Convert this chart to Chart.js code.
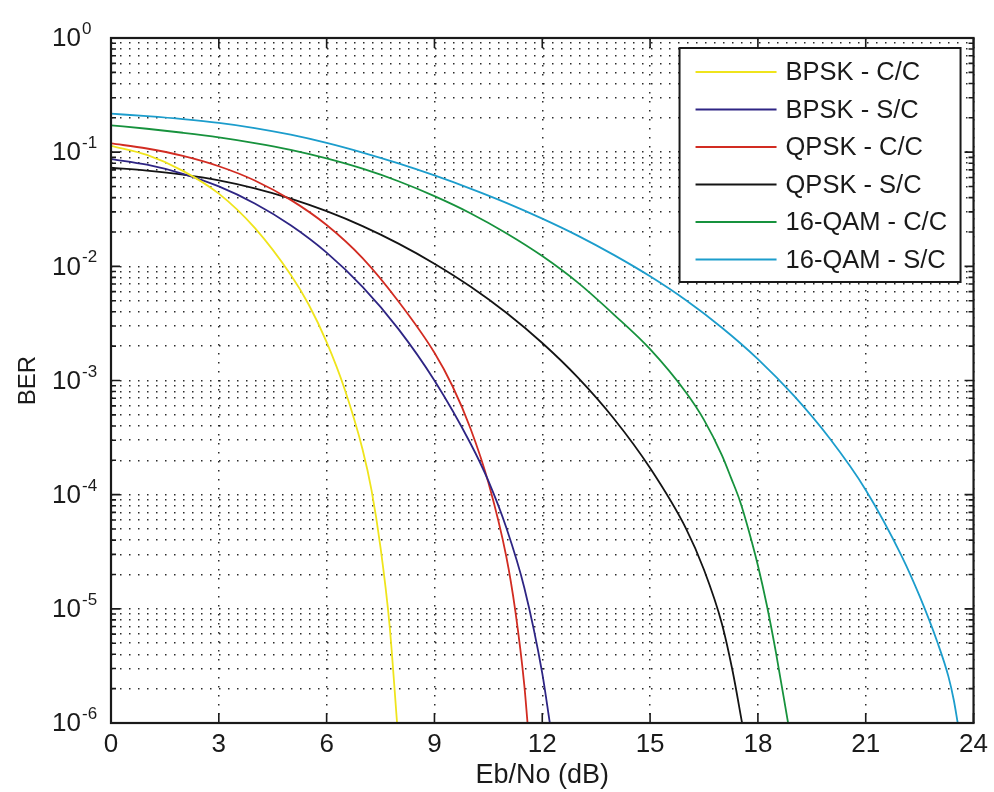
<!DOCTYPE html>
<html>
<head>
<meta charset="utf-8">
<script src="https://cdn.jsdelivr.net/npm/chart.js@4.4.1/dist/chart.umd.min.js"></script>
<style>
  html, body { margin: 0; padding: 0; background: #fff; }
  #wrap { width: 994px; height: 792px; position: relative; }
</style>
</head>
<body>
<div id="wrap"><canvas id="ber"></canvas></div>
<script>
// Eb/No (dB) and BER, one pair of arrays per curve
const snrBpskCC = [0, 1, 2, 3, 4, 5, 5.5, 6, 6.5, 7, 7.25, 7.5, 7.75, 7.96]
const berBpskCC = [0.1138, 0.0946, 0.0686, 0.0433, 0.0217, 8.43e-3, 4.63e-3, 2.17e-3, 8.43e-4, 2.49e-4, 1.09e-4, 3.44e-5, 7.26e-6, 1e-6]

const snrBpskSC = [0, 1, 2, 3, 4, 5, 6, 7, 8, 9, 10, 10.5, 11, 11.5, 12, 12.21]
const berBpskSC = [0.0871, 0.0776, 0.0646, 0.0501, 0.0355, 0.0229, 0.0132, 6.61e-3, 2.82e-3, 1.0e-3, 2.82e-4, 1.32e-4, 5.13e-5, 1.53e-5, 2.72e-6, 1e-6]

const snrQpskCC = [0, 1, 2, 3, 4, 5, 6, 7, 8, 9, 9.5, 10, 10.5, 11, 11.25, 11.5, 11.59]
const berQpskCC = [0.1194, 0.1077, 0.0927, 0.0753, 0.0565, 0.0382, 0.0230, 0.0118, 4.92e-3, 1.75e-3, 8.95e-4, 3.82e-4, 1.28e-4, 2.86e-5, 9.59e-6, 2.15e-6, 1e-6]

const snrQpskSC = [0, 1, 2, 3, 4, 5, 6, 7, 8, 9, 10, 11, 12, 13, 14, 15, 16, 16.5, 17, 17.3, 17.56]
const berQpskSC = [0.0730, 0.0689, 0.0635, 0.0566, 0.0482, 0.0392, 0.0304, 0.0225, 0.0158, 0.01054, 6.65e-3, 3.92e-3, 2.13e-3, 1.054e-3, 4.60e-4, 1.71e-4, 5.05e-5, 2.20e-5, 7.38e-6, 2.81e-6, 1e-6]

const snrQam16CC = [0, 1, 2, 3, 4, 5, 6, 7, 8, 9, 10, 11, 12, 13, 14, 15, 16, 16.5, 17, 17.25, 17.5, 17.75, 18, 18.25, 18.5, 18.84]
const berQam16CC = [0.1718, 0.1603, 0.1479, 0.1349, 0.1202, 0.1047, 0.0881, 0.0716, 0.0556, 0.0412, 0.0292, 0.0195, 0.0123, 7.16e-3, 3.76e-3, 1.88e-3, 7.85e-4, 4.52e-4, 2.21e-4, 1.41e-4, 8.81e-5, 4.79e-5, 2.40e-5, 1.07e-5, 4.17e-6, 1e-6]

const snrQam16SC = [0, 1, 2, 3, 4, 5, 6, 7, 8, 9, 10, 11, 12, 13, 14, 15, 16, 17, 18, 19, 20, 21, 22, 22.5, 23, 23.3, 23.45, 23.56]
const berQam16SC = [0.2173, 0.2065, 0.1945, 0.1803, 0.1626, 0.1422, 0.1205, 0.0991, 0.0796, 0.0625, 0.0480, 0.0360, 0.0262, 0.0185, 0.01253, 8.17e-3, 5.04e-3, 2.90e-3, 1.54e-3, 7.36e-4, 3.10e-4, 1.10e-4, 2.90e-5, 1.29e-5, 5.04e-6, 2.56e-6, 1.59e-6, 1e-6]

const seriesLabels = ["BPSK - C/C", "BPSK - S/C", "QPSK - C/C", "QPSK - S/C", "16-QAM - C/C", "16-QAM - S/C"]
const seriesColors = ["#efe41c", "#2e2584", "#d22c22", "#141414", "#17923d", "#1c9dcc"]
const seriesX = [snrBpskCC, snrBpskSC, snrQpskCC, snrQpskSC, snrQam16CC, snrQam16SC]
const seriesY = [berBpskCC, berBpskSC, berQpskCC, berQpskSC, berQam16CC, berQam16SC]

const xTicks = [0, 3, 6, 9, 12, 15, 18, 21, 24]
const yExponents = [-6, -5, -4, -3, -2, -1, 0]

const FONT = "'Liberation Sans', Arial, sans-serif"
const INK = "#1a1a1a"
const isDecade = v => Math.abs(Math.log10(v) - Math.round(Math.log10(v))) < 1e-9

// MATLAB style box: frame, inward ticks on all sides, 10^n labels, boxed legend
const matlabAxes = {
  id: "matlabAxes",
  afterDraw(chart) {
    const {ctx, chartArea: a, scales: {x, y}} = chart
    ctx.save()
    ctx.strokeStyle = INK
    ctx.lineWidth = 1.6
    ctx.beginPath()
    x.ticks.forEach(t => {
      const px = x.getPixelForValue(t.value)
      ctx.moveTo(px, a.bottom); ctx.lineTo(px, a.bottom - 10)
      ctx.moveTo(px, a.top); ctx.lineTo(px, a.top + 10)
    })
    y.ticks.forEach(t => {
      const py = y.getPixelForValue(t.value)
      const len = isDecade(t.value) ? 9 : 5
      ctx.moveTo(a.left, py); ctx.lineTo(a.left + len, py)
      ctx.moveTo(a.right, py); ctx.lineTo(a.right - len, py)
    })
    ctx.stroke()
    ctx.lineWidth = 2.2
    ctx.strokeRect(a.left, a.top, a.right - a.left, a.bottom - a.top)

    // y tick labels as 10 with a raised exponent
    ctx.fillStyle = INK
    yExponents.forEach(e => {
      const py = y.getPixelForValue(Math.pow(10, e))
      const bx = a.left - 30
      ctx.font = "26px " + FONT
      ctx.textAlign = "right"
      ctx.textBaseline = "middle"
      ctx.fillText("10", bx, py + 1)
      ctx.font = "17px " + FONT
      ctx.textAlign = "left"
      ctx.textBaseline = "alphabetic"
      ctx.fillText(String(e), bx + 1, py - 4)
    })

    // legend
    const lx = a.right - 294, ly = a.top + 10, lw = 281, lh = 234
    ctx.fillStyle = "#fff"
    ctx.fillRect(lx, ly, lw, lh)
    ctx.lineWidth = 2
    ctx.strokeRect(lx, ly, lw, lh)
    ctx.font = "25.5px " + FONT
    ctx.textAlign = "left"
    ctx.textBaseline = "middle"
    chart.data.datasets.forEach((ds, i) => {
      const ry = ly + 24 + i * 37.5
      ctx.strokeStyle = ds.borderColor
      ctx.lineWidth = 2.2
      ctx.beginPath(); ctx.moveTo(lx + 16, ry); ctx.lineTo(lx + 97, ry); ctx.stroke()
      ctx.fillStyle = INK
      ctx.fillText(ds.label, lx + 106, ry + 1)
    })
    ctx.restore()
  }
}

const gridLine = {color: "rgba(20,20,20,0.9)", lineWidth: 1.5, drawTicks: false}
const gridBorder = {display: false, dash: [1.5, 7.5]}

new Chart(document.getElementById("ber"), {
  type: "line",
  data: {
    datasets: seriesLabels.map((label, i) => ({
      label,
      data: seriesX[i].map((v, j) => ({x: v, y: seriesY[i][j]})),
      borderColor: seriesColors[i],
      backgroundColor: seriesColors[i],
      borderWidth: 1.8,
      pointRadius: 0,
      cubicInterpolationMode: "monotone",
      fill: false
    }))
  },
  options: {
    responsive: true,
    maintainAspectRatio: false,
    animation: false,
    layout: {padding: {top: 38, right: 14, left: 0, bottom: 0}},
    plugins: {legend: {display: false}, tooltip: {enabled: false}},
    scales: {
      x: {
        type: "linear",
        min: 0, max: 24,
        afterBuildTicks: s => { s.ticks = xTicks.map(v => ({value: v})) },
        afterFit: s => { s.height = 69 },
        grid: gridLine,
        border: gridBorder,
        ticks: {color: INK, font: {family: FONT, size: 26}, padding: 6, maxRotation: 0},
        title: {display: true, text: "Eb/No (dB)", color: INK, font: {family: FONT, size: 27}, padding: {top: 0, bottom: 0}}
      },
      y: {
        type: "logarithmic",
        min: 1e-6, max: 1,
        afterBuildTicks: s => {
          const t = []
          yExponents.forEach(e => {
            for (let m = 1; m <= 9; m++) {
              const v = m * Math.pow(10, e)
              if (v <= 1 + 1e-12) t.push({value: v})
            }
          })
          s.ticks = t
        },
        afterFit: s => { s.width = 111 },
        grid: gridLine,
        border: gridBorder,
        ticks: {autoSkip: false, callback: () => ""},
        title: {display: true, text: "BER", color: INK, font: {family: FONT, size: 24}, padding: {top: 14, bottom: 0}}
      }
    }
  },
  plugins: [matlabAxes]
})
</script>
</body>
</html>
